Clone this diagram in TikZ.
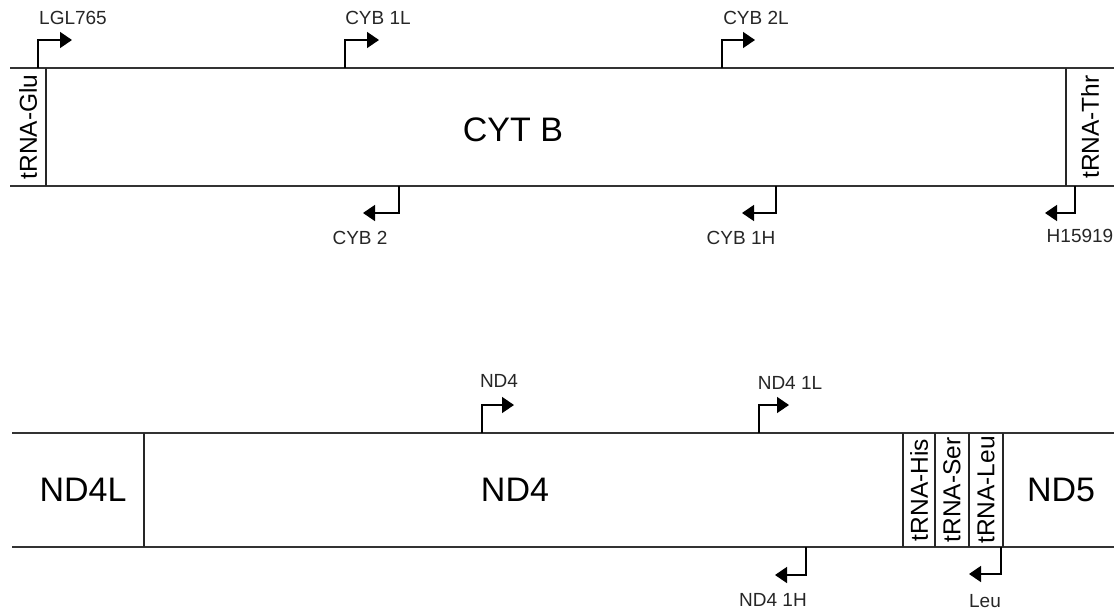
\documentclass[tikz,border=0pt]{standalone}
\usepackage{fontspec}
\setmainfont{Liberation Sans}
\usetikzlibrary{arrows.meta}
\begin{document}
\begin{tikzpicture}[x=1pt,y=-1pt,
 strand/.style={line width=1.8pt, draw=black!80},
 sep/.style={line width=1.4pt, draw=black!85},
 primer/.style={line width=1.5pt, -{Triangle[length=12pt,width=16pt]}},
 plabel/.style={font=\fontsize{19}{21}\selectfont, inner sep=0pt, text=black!85},
 gene/.style={font=\fontsize{34}{38}\selectfont, inner sep=0pt},
 trna/.style={font=\fontsize{24.5}{26}\selectfont, rotate=90, inner sep=0pt}]
\useasboundingbox (0,0) rectangle (1114,613);
% ---------- upper fragment ----------
\coordinate (t1L) at (10,68);   \coordinate (t1R) at (1114,68);
\coordinate (b1L) at (10,186);  \coordinate (b1R) at (1114,186);
\draw[strand] (t1L) -- (t1R);
\draw[strand] (b1L) -- (b1R);
\draw[sep] (46,68) -- (46,186);
\draw[sep] (1066,68) -- (1066,186);
\node[trna] (glu) at (28,127) {tRNA-Glu};
\node[trna] (thr) at (1090,127) {tRNA-Thr};
\node[gene] (cytb) at (513,130) {CYT B};
% forward primers
\coordinate (p1) at (38,68);  \coordinate (p1a) at (38,40);  \coordinate (p1b) at (72,40);
\draw[primer] (p1) -- (p1a) -- (p1b);
\node[plabel] (lgl) at (73,18) {LGL765};
\coordinate (p2) at (345,68); \coordinate (p2a) at (345,40); \coordinate (p2b) at (379,40);
\draw[primer] (p2) -- (p2a) -- (p2b);
\node[plabel] (cyb1l) at (378,18) {CYB 1L};
\coordinate (p3) at (722,68); \coordinate (p3a) at (722,40); \coordinate (p3b) at (755,40);
\draw[primer] (p3) -- (p3a) -- (p3b);
\node[plabel] (cyb2l) at (756,18) {CYB 2L};
% reverse primers
\coordinate (r1) at (399,186); \coordinate (r1a) at (399,213); \coordinate (r1b) at (363,213);
\draw[primer] (r1) -- (r1a) -- (r1b);
\node[plabel] (cyb2) at (360,238) {CYB 2};
\coordinate (r2) at (776,186); \coordinate (r2a) at (776,213); \coordinate (r2b) at (742,213);
\draw[primer] (r2) -- (r2a) -- (r2b);
\node[plabel] (cyb1h) at (741,238) {CYB 1H};
\coordinate (r3) at (1075,186); \coordinate (r3a) at (1075,213); \coordinate (r3b) at (1045,213);
\draw[primer] (r3) -- (r3a) -- (r3b);
\node[plabel] (h15919) at (1080,236) {H15919};
% ---------- lower fragment ----------
\coordinate (t2L) at (12,433);  \coordinate (t2R) at (1114,433);
\coordinate (b2L) at (12,547);  \coordinate (b2R) at (1114,547);
\draw[strand] (t2L) -- (t2R);
\draw[strand] (b2L) -- (b2R);
\draw[sep] (144,433) -- (144,547);
\draw[sep] (903,433) -- (903,547);
\draw[sep] (935,433) -- (935,547);
\draw[sep] (969,433) -- (969,547);
\draw[sep] (1003,433) -- (1003,547);
\node[gene] (nd4l) at (83,490) {ND4L};
\node[gene] (nd4) at (515,490) {ND4};
\node[gene] (nd5) at (1061,490) {ND5};
\node[trna] (his) at (919,490) {tRNA-His};
\node[trna] (ser) at (952,490) {tRNA-Ser};
\node[trna] (leu) at (986,490) {tRNA-Leu};
% forward primers
\coordinate (q1) at (482,433); \coordinate (q1a) at (482,405); \coordinate (q1b) at (514,405);
\draw[primer] (q1) -- (q1a) -- (q1b);
\node[plabel] (nd4p) at (499,381) {ND4};
\coordinate (q2) at (759,433); \coordinate (q2a) at (759,405); \coordinate (q2b) at (789,405);
\draw[primer] (q2) -- (q2a) -- (q2b);
\node[plabel] (nd41l) at (790,383) {ND4 1L};
% reverse primers
\coordinate (s1) at (806,547); \coordinate (s1a) at (806,575); \coordinate (s1b) at (775,575);
\draw[primer] (s1) -- (s1a) -- (s1b);
\node[plabel] (nd41h) at (773,600) {ND4 1H};
\coordinate (s2) at (1001,547); \coordinate (s2a) at (1001,574); \coordinate (s2b) at (969,574);
\draw[primer] (s2) -- (s2a) -- (s2b);
\node[plabel] (leup) at (985,601) {Leu};
\end{tikzpicture}
\end{document}
